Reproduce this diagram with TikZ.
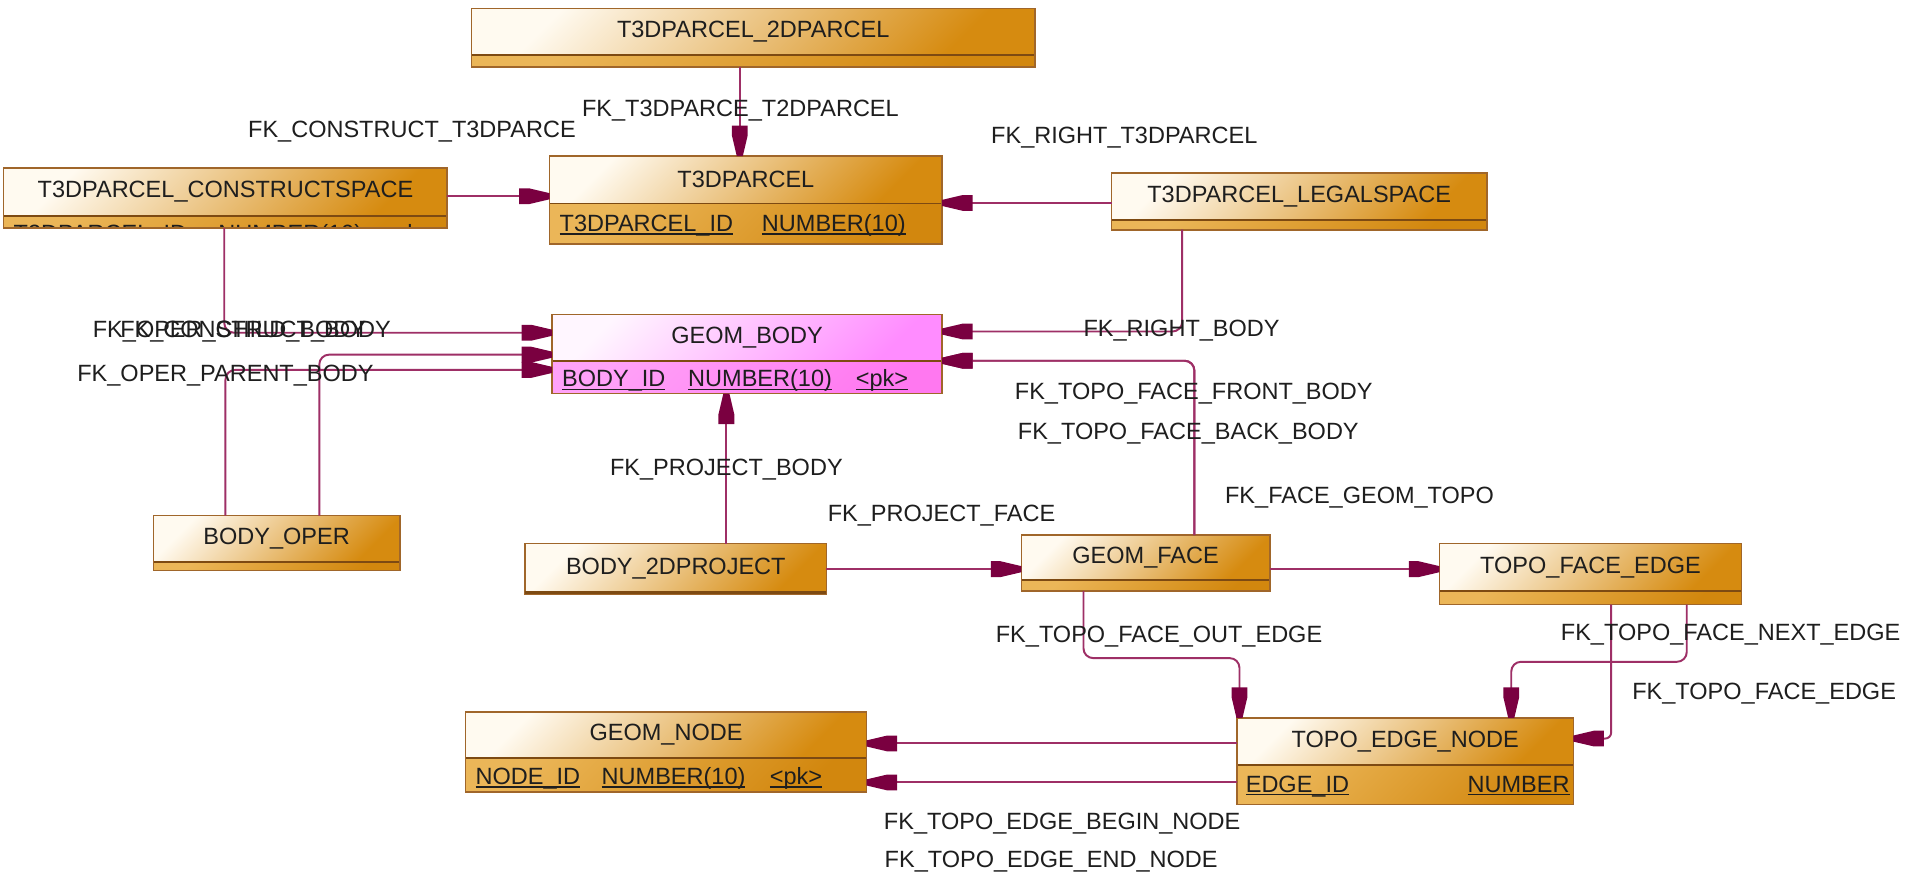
\documentclass[tikz,border=0pt]{standalone}
\usepackage{fontspec}
\setmainfont{Liberation Sans}
\usetikzlibrary{arrows.meta}
\definecolor{fkline}{HTML}{9E2F66}
\definecolor{fkarrow}{HTML}{7A0040}
\definecolor{bordc}{HTML}{A0662A}
\definecolor{sepc}{HTML}{7D4A12}
\definecolor{txtc}{HTML}{1E1E1E}
\definecolor{hdrA}{HTML}{FFFAF0}
\definecolor{hdrB}{HTML}{D68B10}
\definecolor{attA}{HTML}{EBB658}
\definecolor{attB}{HTML}{D2870E}
\definecolor{pinkA}{HTML}{FFF6FF}
\definecolor{pinkB}{HTML}{FF8CFF}
\definecolor{pattA}{HTML}{FFA2F8}
\definecolor{pattB}{HTML}{FF78F0}
\pgfdeclarearrow{
  name = ERtip,
  setup code = {
    \pgfarrowssettipend{0pt}
    \pgfarrowssetbackend{-25pt}
    \pgfarrowssetlineend{-24pt}
    \pgfarrowsupperhullpoint{0pt}{2.5pt}
    \pgfarrowsupperhullpoint{-25pt}{6.5pt}
  },
  drawing code = {
    \pgfsetfillcolor{fkarrow}
    \pgfpathmoveto{\pgfqpoint{0pt}{2.5pt}}
    \pgfpathlineto{\pgfqpoint{-17pt}{6.5pt}}
    \pgfpathlineto{\pgfqpoint{-25pt}{6.5pt}}
    \pgfpathlineto{\pgfqpoint{-25pt}{-6.5pt}}
    \pgfpathlineto{\pgfqpoint{-17pt}{-6.5pt}}
    \pgfpathlineto{\pgfqpoint{0pt}{-2.5pt}}
    \pgfpathclose
    \pgfusepathqfill
  },
  parameters = {},
}
\newcommand\dfont{\fontsize{19.3}{22}\selectfont}
\newcommand\ulin[1]{\setbox0\hbox{#1}\rlap{\rule[-2.6pt]{\wd0}{1.3pt}}\box0}
\newcommand\ertbl[9]{%
  \node[#7, minimum width={#4-#2}, minimum height={#5-#3}, anchor=north west] (#1) at (#2,#3) {#9};
  \node[#8, minimum width={#4-#2}, minimum height={#6-#5}, anchor=north west] (#1a) at (#2,#5) {};
  \draw[sepl] (#1.south west) -- (#1.south east);
  \draw[bord] (#1.north west) rectangle (#1a.south east);
}
\begin{document}
\begin{tikzpicture}[x=1pt,y=-1pt,
  lbl/.style={font=\dfont, text=txtc, inner sep=0pt},
  attrt/.style={font=\dfont, text=txtc, inner sep=0pt, anchor=base west},
  hdr/.style={font=\dfont, text=txtc, inner sep=0pt, outer sep=0pt, top color=hdrA, bottom color=hdrB, shading angle=45},
  attr/.style={inner sep=0pt, outer sep=0pt, top color=attA, bottom color=attB, shading angle=45},
  band/.style={inner sep=0pt, outer sep=0pt, top color=attA, bottom color=attB, shading angle=45},
  phdr/.style={font=\dfont, text=txtc, inner sep=0pt, outer sep=0pt, top color=pinkA, bottom color=pinkB, shading angle=45},
  pattr/.style={inner sep=0pt, outer sep=0pt, top color=pattA, bottom color=pattB, shading angle=45},
  sepl/.style={draw=sepc, line width=1.5pt},
  bord/.style={draw=bordc, line width=1.3pt},
  fk/.style={draw=fkline, line width=1.6pt, rounded corners=8pt, -{ERtip}}
]
\fill[white] (0,0) rectangle (1568,721);
\useasboundingbox (0,0) rectangle (1568,721);

% tables
\ertbl{t2d}{387}{7}{849}{45}{55}{hdr}{band}{T3DPARCEL\_2DPARCEL}
\ertbl{t3d}{451}{128}{773}{167}{200}{hdr}{attr}{T3DPARCEL}
\ertbl{tcs}{3}{138}{367}{177}{187}{hdr}{attr}{T3DPARCEL\_CONSTRUCTSPACE}
\begin{scope}
  \clip (tcsa.north west) rectangle (tcsa.south east);
  \node[attrt] (tcs1) at (11,198.4) {T3DPARCEL\_ID};
  \node[attrt] (tcs2) at (179,198.4) {NUMBER(10)};
  \node[attrt] (tcs3) at (312,198.4) {<pk>};
\end{scope}
\draw[bord] (tcs.north west) rectangle (tcsa.south east);
\ertbl{tls}{912}{142}{1220}{180.5}{188.5}{hdr}{band}{T3DPARCEL\_LEGALSPACE}
\ertbl{gb}{453}{258}{773}{296}{323}{phdr}{pattr}{GEOM\_BODY}
\ertbl{bo}{126}{423}{328}{461}{468}{hdr}{band}{BODY\_OPER}
\node[hdr, minimum width=247, minimum height=41.5, anchor=north west] (b2d) at (431,446) {BODY\_2DPROJECT};
\draw[bord] (b2d.north west) rectangle (b2d.south east);
\draw[sepc, line width=2.4pt] ([yshift=1.4pt]b2d.south west) -- ([yshift=1.4pt]b2d.south east);
\ertbl{gf}{838}{439}{1042}{476}{485}{hdr}{band}{GEOM\_FACE}
\ertbl{tfe}{1181}{446}{1429}{485}{496}{hdr}{band}{TOPO\_FACE\_EDGE}
\ertbl{gn}{382}{584}{711}{622}{650}{hdr}{attr}{GEOM\_NODE}
\ertbl{ten}{1015}{589}{1291}{628}{660}{hdr}{attr}{TOPO\_EDGE\_NODE}

% attribute rows
\node[attrt] (t3d1) at (459,190) {\ulin{T3DPARCEL\_ID}};
\node[attrt] (t3d2) at (625,190) {\ulin{NUMBER(10)}};
\node[attrt] (gb1) at (461,317.5) {\ulin{BODY\_ID}};
\node[attrt] (gb2) at (564.5,317.5) {\ulin{NUMBER(10)}};
\node[attrt] (gb3) at (702,317.5) {\ulin{<pk>}};
\node[attrt] (gn1) at (390,644) {\ulin{NODE\_ID}};
\node[attrt] (gn2) at (493.5,644) {\ulin{NUMBER(10)}};
\node[attrt] (gn3) at (631.5,644) {\ulin{<pk>}};
\node[attrt] (ten1) at (1022,650) {\ulin{EDGE\_ID}};
\node[attrt, anchor=base east] (ten2) at (1288,650) {\ulin{NUMBER}};

% connectors
\draw[fk] (t2da.south -| 607,0) -- (t3d.north -| 607,0);
\draw[fk] (tcs.east |- 0,161) -- (t3d.west |- 0,161);
\draw[fk] (tls.west |- 0,166.5) -- (t3d.east |- 0,166.5);
\draw[fk] (tcsa.south -| 184,0) |- (gb.west |- 0,273);
\draw[fk] (bo.north -| 262,0) |- (gb.west |- 0,291);
\draw[fk] (bo.north -| 185,0) |- (gb.west |- 0,303.5);
\draw[fk] (tlsa.south -| 970,0) |- (gb.east |- 0,272);
\draw[fk] (gf.north -| 980,0) |- (gb.east |- 0,296);
\draw[fk] (gf.north -| 980,0) |- (gb.east |- 0,296);
\draw[fk] (b2d.north -| 596,0) -- (gba.south -| 596,0);
\draw[fk] (b2d.east |- 0,467) -- (gf.west |- 0,467);
\draw[fk] (gf.east |- 0,467) -- (tfe.west |- 0,467);
\draw[fk] (gfa.south -| 889,0) |- (952,540) -| (ten.north -| 1017,0);
\draw[fk] (tfea.south -| 1384,0) |- (1300,543) -| (ten.north -| 1240,0);
\draw[fk, rounded corners=5pt] (tfea.south -| 1322,0) |- (ten.east |- 0,606);
\draw[fk] (ten.west |- 0,610) -- (gn.east |- 0,610);
\draw[fk] (tena.west |- 0,642) -- (gna.east |- 0,642);

% labels
\node[lbl] (l1) at (607.5,91) {FK\_T3DPARCE\_T2DPARCEL};
\node[lbl] (l2) at (338,108) {FK\_CONSTRUCT\_T3DPARCE};
\node[lbl] (l3) at (922.5,113) {FK\_RIGHT\_T3DPARCEL};
\node[lbl, anchor=west] (l4) at (76,272) {FK\_OPER\_CHILD\_BODY};
\node[lbl, anchor=west] (l5) at (98.5,272) {FK\_CONSTRUCT\_BODY};
\node[lbl] (l6) at (185,308) {FK\_OPER\_PARENT\_BODY};
\node[lbl] (l7) at (969.5,271) {FK\_RIGHT\_BODY};
\node[lbl] (l8) at (979.5,323) {FK\_TOPO\_FACE\_FRONT\_BODY};
\node[lbl] (l9) at (975,356) {FK\_TOPO\_FACE\_BACK\_BODY};
\node[lbl] (l10) at (596,385) {FK\_PROJECT\_BODY};
\node[lbl] (l11) at (772.5,423) {FK\_PROJECT\_FACE};
\node[lbl] (l12) at (1115.5,408) {FK\_FACE\_GEOM\_TOPO};
\node[lbl] (l13) at (951,522) {FK\_TOPO\_FACE\_OUT\_EDGE};
\node[lbl] (l14) at (1420,521) {FK\_TOPO\_FACE\_NEXT\_EDGE};
\node[lbl] (l15) at (1447.5,569) {FK\_TOPO\_FACE\_EDGE};
\node[lbl] (l16) at (871.5,676) {FK\_TOPO\_EDGE\_BEGIN\_NODE};
\node[lbl] (l17) at (862.5,707) {FK\_TOPO\_EDGE\_END\_NODE};
\end{tikzpicture}
\end{document}
